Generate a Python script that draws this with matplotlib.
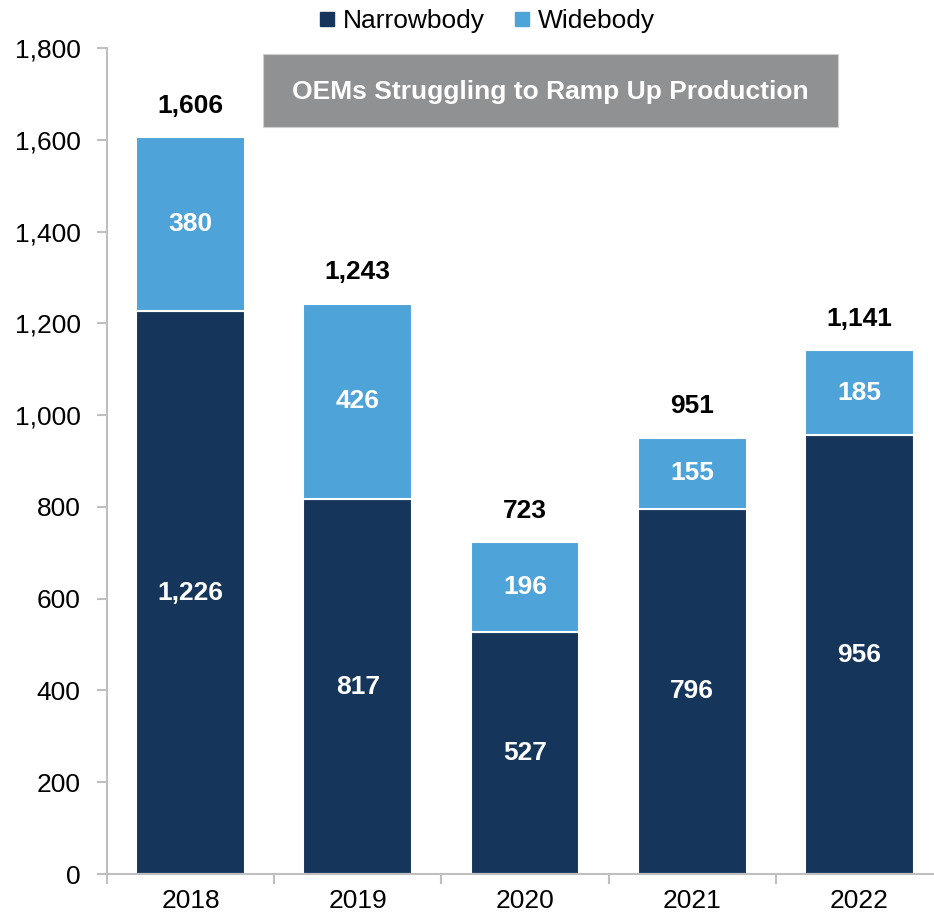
import numpy as np
import matplotlib.pyplot as plt
from matplotlib.lines import Line2D
from matplotlib.patches import Rectangle
from matplotlib.ticker import FuncFormatter, FixedLocator

plt.rcParams["font.family"] = ["Liberation Sans", "DejaVu Sans"]

# ===== DATA =====
years = ["2018", "2019", "2020", "2021", "2022"]
narrowbody = [1226, 817, 527, 796, 956]
widebody = [380, 426, 196, 155, 185]
totals = [1606, 1243, 723, 951, 1141]

NARROW_COLOR = "#16355b"
WIDE_COLOR = "#4ea3d9"
AXIS_COLOR = "#bfbfbf"
BOX_COLOR = "#909193"
FS = 19

W, H = 934, 919
fig = plt.figure(figsize=(W / 100, H / 100), dpi=100)
# axis runs slightly past the right edge of the canvas
ax = fig.add_axes([107 / W, 45 / H, 836 / W, 826 / H])

x = np.arange(len(years))
w = 0.65
ax.bar(x, narrowbody, width=w, color=NARROW_COLOR, edgecolor="white", linewidth=1.5, zorder=2)
ax.bar(x, widebody, width=w, bottom=narrowbody, color=WIDE_COLOR, edgecolor="white",
       linewidth=1.5, zorder=2)

for xi, n, wb, t in zip(x, narrowbody, widebody, totals):
    ax.text(xi, n / 2, f"{n:,}", ha="center", va="center", color="white",
            fontsize=FS, fontweight="bold", zorder=3)
    ax.text(xi, n + wb / 2, f"{wb:,}", ha="center", va="center", color="white",
            fontsize=FS, fontweight="bold", zorder=3)
    ax.text(xi, t + 68, f"{t:,}", ha="center", va="center", color="black",
            fontsize=FS, fontweight="bold", zorder=3)

ax.set_xlim(-0.5, len(years) - 0.5)
ax.set_ylim(0, 1800)
ax.set_yticks(np.arange(0, 1801, 200))
ax.yaxis.set_major_formatter(FuncFormatter(lambda v, p: f"{int(v):,}"))

# category labels centred, tick marks on the boundaries
ax.xaxis.set_major_locator(FixedLocator(np.arange(-0.5, len(years), 1.0)))
ax.xaxis.set_minor_locator(FixedLocator(x))
ax.set_xticklabels([])
ax.set_xticklabels(years, minor=True)
ax.tick_params(axis="x", which="minor", length=0, pad=11, labelsize=FS)
ax.tick_params(axis="x", which="major", length=7, width=1.5, color=AXIS_COLOR, direction="out")
ax.tick_params(axis="y", length=7, width=1.5, color=AXIS_COLOR, direction="out", pad=12,
               labelsize=FS)

for s in ("top", "right"):
    ax.spines[s].set_visible(False)
for s in ("left", "bottom"):
    ax.spines[s].set_color(AXIS_COLOR)
    ax.spines[s].set_linewidth(1.5)

# callout box
fig.add_artist(Rectangle((263 / W, 1 - 127 / H), 575 / W, 73 / H, transform=fig.transFigure,
                         facecolor=BOX_COLOR, edgecolor="#d0d0d0", linewidth=0.8))
fig.text(550 / W, 1 - 92 / H, "OEMs Struggling to Ramp Up Production",
         ha="center", va="center", color="white", fontsize=19, fontweight="bold")

handles = [Line2D([], [], marker="s", linestyle="none", markersize=10, color=NARROW_COLOR),
           Line2D([], [], marker="s", linestyle="none", markersize=10, color=WIDE_COLOR)]
fig.legend(handles, ["Narrowbody", "Widebody"], loc="center", bbox_to_anchor=(486 / W, 1 - 21 / H),
           ncol=2, frameon=False, fontsize=FS, handletextpad=0.2, columnspacing=1.0,
           handlelength=0.8)

fig.savefig("out.png", dpi=100)
